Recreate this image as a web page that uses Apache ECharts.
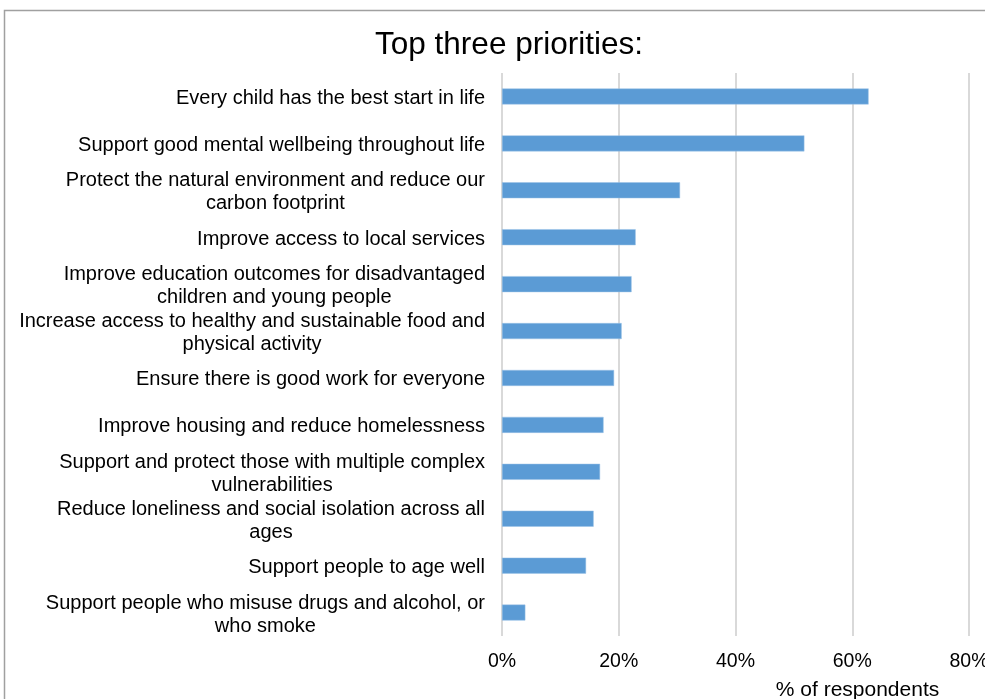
<!DOCTYPE html>
<html>
<head>
<meta charset="utf-8">
<script src="https://cdn.jsdelivr.net/npm/echarts@6/dist/echarts.min.js"></script>
<style>html,body{margin:0;padding:0;background:#fff;}#c{width:985px;height:699px;}</style>
</head>
<body>
<div id="c"></div>
<script>
const categories = [
  "Every child has the best start in life",
  "Support good mental wellbeing throughout life",
  "Protect the natural environment and reduce our\ncarbon footprint",
  "Improve access to local services",
  "Improve education outcomes for disadvantaged\nchildren and young people",
  "Increase access to healthy and sustainable food and\nphysical activity",
  "Ensure there is good work for everyone",
  "Improve housing and reduce homelessness",
  "Support and protect those with multiple complex\nvulnerabilities",
  "Reduce loneliness and social isolation across all\nages",
  "Support people to age well",
  "Support people who misuse drugs and alcohol, or\nwho smoke"
];
const values = [62.8, 51.8, 30.5, 22.9, 22.2, 20.5, 19.2, 17.4, 16.8, 15.7, 14.4, 4.0];
const xTicks = [0, 20, 40, 60, 80];
const titleText = "Top three priorities:";
const xAxisName = "% of respondents";

const font = "'Liberation Sans', Arial, sans-serif";
const chart = echarts.init(document.getElementById('c'), null, {renderer: 'canvas'});
chart.setOption({
  animation: false,
  backgroundColor: '#fff',
  title: {
    text: titleText,
    left: 504, top: 24, textAlign: 'center',
    textStyle: {fontFamily: font, fontSize: 31.5, fontWeight: 'normal', color: '#000'}
  },
  graphic: [{
    type: 'rect', shape: {x: 4.5, y: 10.5, width: 1200, height: 1000},
    style: {fill: 'none', stroke: '#a0a0a0', lineWidth: 1.5}, silent: true, z: 100
  }],
  grid: {left: 502, right: 16, top: 73, bottom: 63, containLabel: false, outerBoundsMode: 'none'},
  xAxis: {
    type: 'value', min: xTicks[0], max: xTicks[xTicks.length - 1], interval: 20,
    axisLine: {show: false}, axisTick: {show: false},
    splitLine: {show: true, lineStyle: {color: '#d9d9d9', width: 2}},
    axisLabel: {formatter: v => v + '%', fontFamily: font, fontSize: 19.5, color: '#000', margin: 16},
    name: xAxisName, nameLocation: 'middle', nameGap: 44,
    nameTextStyle: {fontFamily: font, fontSize: 21, color: '#000', padding: [0, 0, 0, 244]}
  },
  yAxis: {
    type: 'category', data: categories, inverse: true,
    axisLine: {show: false}, axisTick: {show: false},
    axisLabel: {
      interval: 0, margin: 17, fontFamily: font, fontSize: 20, color: '#000', lineHeight: 23,
      padding: [4, 0, 0, 0],
      formatter: v => v.split('\n').map(s => '{a|' + s + '}').join('\n'),
      rich: {a: {align: 'center', fontFamily: font, fontSize: 20, color: '#000', lineHeight: 23}}
    }
  },
  series: [{
    type: 'bar', data: values, barWidth: 16,
    itemStyle: {color: '#5b9bd5', borderColor: '#9dc3e6', borderWidth: 0.5}
  }]
});
</script>
</body>
</html>
